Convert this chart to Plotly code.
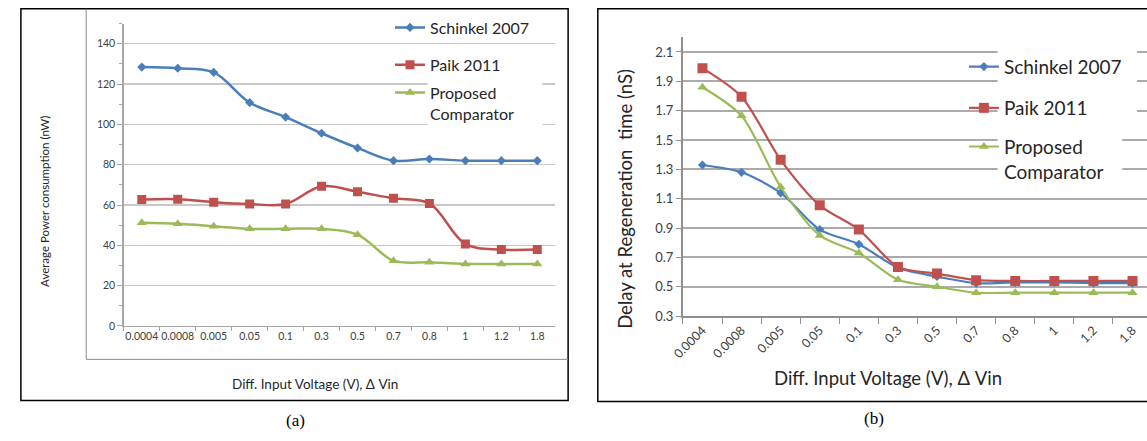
import plotly.graph_objects as go

W, H = 1147, 441

def fx(px):
    return px / W

def fy(py):
    return 1 - py / H

# ---------------- data ----------------
categories = ["0.0004", "0.0008", "0.005", "0.05", "0.1", "0.3", "0.5", "0.7", "0.8", "1", "1.2", "1.8"]

power_schinkel = [128.4, 127.8, 125.8, 110.8, 103.6, 95.6, 88.3, 82.0, 82.8, 82.0, 82.0, 82.0]
power_paik = [62.7, 62.9, 61.4, 60.5, 60.5, 69.3, 66.6, 63.3, 60.8, 40.7, 37.9, 37.9]
power_proposed = [51.2, 50.7, 49.5, 48.2, 48.2, 48.2, 45.3, 32.4, 31.6, 30.8, 30.8, 30.8]

delay_schinkel = [1.33, 1.28, 1.14, 0.89, 0.79, 0.63, 0.57, 0.525, 0.53, 0.53, 0.525, 0.525]
delay_paik = [1.99, 1.795, 1.365, 1.055, 0.89, 0.635, 0.59, 0.545, 0.54, 0.54, 0.54, 0.54]
delay_proposed = [1.86, 1.665, 1.18, 0.85, 0.73, 0.548, 0.50, 0.46, 0.46, 0.46, 0.46, 0.46]

series_names = ["Schinkel 2007", "Paik 2011", "Proposed<br>Comparator"]
colors = ["#4a7ebb", "#c0504d", "#9bbb59"]
symbols = ["diamond", "square", "triangle-up"]

FONT = "Lato"

fig = go.Figure()

# ---------------- panel (a) ----------------
a_sizes = [7, 9, 9]
for i, vals in enumerate([power_schinkel, power_paik, power_proposed]):
    fig.add_trace(go.Scatter(
        x=categories, y=vals, name=series_names[i], mode="lines+markers",
        line=dict(color=colors[i], width=2.5, shape="spline", smoothing=1),
        marker=dict(symbol=symbols[i], size=a_sizes[i], color=colors[i]),
        xaxis="x", yaxis="y", showlegend=True,
        legend=["legend", "legend2", "legend3"][i],
    ))

# ---------------- panel (b) ----------------
b_sizes = [7, 10, 9]
for i, vals in enumerate([delay_schinkel, delay_paik, delay_proposed]):
    fig.add_trace(go.Scatter(
        x=categories, y=vals, name=series_names[i], mode="lines+markers",
        line=dict(color=colors[i], width=2.2, shape="spline", smoothing=0.8),
        marker=dict(symbol=symbols[i], size=b_sizes[i], color=colors[i]),
        xaxis="x2", yaxis="y2", showlegend=True,
        legend=["legend4", "legend5", "legend6"][i],
    ))

axis_grey = "#a6a6a6"

fig.update_layout(
    width=W, height=H,
    margin=dict(l=0, r=0, t=0, b=0),
    paper_bgcolor="white", plot_bgcolor="white",
    showlegend=True,
    font=dict(family=FONT, color="#262626"),
    xaxis=dict(
        domain=[fx(113), fx(549)], type="category", range=[-0.5, 11.5],
        tickson="boundaries", ticks="outside", ticklen=4, tickcolor=axis_grey,
        showline=True, linecolor=axis_grey, linewidth=1.5, showgrid=False,
        tickangle=0,
        tickfont=dict(size=10.5, color="#404040"), anchor="y",
    ),
    yaxis=dict(
        domain=[fy(332), fy(24)], range=[0, 150], tick0=0, dtick=20,
        showgrid=True, gridcolor="#c8c8c8", gridwidth=1.5,
        showline=True, linecolor=axis_grey, linewidth=1.5,
        ticks="outside", ticklen=5, tickcolor=axis_grey,
        minor=dict(ticks="outside", ticklen=3, dtick=10, tickcolor=axis_grey, showgrid=False),
        tickfont=dict(size=10.5, color="#404040"), anchor="x", zeroline=False,
    ),
    xaxis2=dict(
        domain=[fx(678), 1], type="category", range=[-0.5, 11.37],
        tickson="boundaries", ticks="outside", ticklen=6, tickcolor="#909090",
        showline=True, linecolor="#909090", linewidth=2, showgrid=False,
        tickangle=-45, tickfont=dict(size=12.5, color="#404040"), anchor="y2",
    ),
    yaxis2=dict(
        domain=[fy(322), fy(38)], range=[0.3, 2.2], tick0=0.3, dtick=0.2,
        tickformat=".1f",
        showgrid=True, gridcolor="#ababab", gridwidth=2,
        showline=True, linecolor="#909090", linewidth=2,
        ticks="outside", ticklen=5, tickcolor="#909090",
        tickfont=dict(size=13, color="#404040"), anchor="x2", zeroline=False,
    ),
)

# ---------------- legends: one entry each ----------------
leg_common = dict(bgcolor="rgba(0,0,0,0)", borderwidth=0, xanchor="left", valign="top")
fa = dict(size=16, family=FONT, color="#262626")
fb = dict(size=19, family=FONT, color="#262626")
fig.update_layout(
    legend=dict(x=fx(382), y=fy(28), yanchor="middle", font=fa, **leg_common),
    legend2=dict(x=fx(382), y=fy(66), yanchor="middle", font=fa, **leg_common),
    legend3=dict(x=fx(382), y=fy(77), yanchor="top", font=fa, **leg_common),
    legend4=dict(x=fx(962), y=fy(68), yanchor="middle", font=fb, **leg_common),
    legend5=dict(x=fx(962), y=fy(110), yanchor="middle", font=fb, **leg_common),
    legend6=dict(x=fx(962), y=fy(130), yanchor="top", font=fb, **leg_common),
)

# ---------------- frames and legend backgrounds ----------------
shapes = [
    dict(type="rect", xref="paper", yref="paper", x0=fx(9), x1=fx(562), y0=fy(408), y1=fy(9),
         line=dict(color="black", width=1.5), fillcolor="rgba(0,0,0,0)"),
    dict(type="line", xref="paper", yref="paper", x0=fx(75), x1=fx(75), y0=fy(9), y1=fy(366),
         line=dict(color="#8c8c8c", width=1)),
    dict(type="line", xref="paper", yref="paper", x0=fx(75), x1=fx(562), y0=fy(366), y1=fy(366),
         line=dict(color="#8c8c8c", width=1)),
    dict(type="rect", xref="paper", yref="paper", x0=fx(592), x1=fx(1160), y0=fy(409), y1=fy(9),
         line=dict(color="black", width=1.5), fillcolor="rgba(0,0,0,0)"),
    dict(type="rect", xref="paper", yref="paper", x0=fx(420), x1=fx(536), y0=fy(131), y1=fy(50),
         line=dict(width=0), fillcolor="white", layer="above"),
    dict(type="rect", xref="paper", yref="paper", x0=fx(996), x1=fx(1137), y0=fy(125), y1=fy(45),
         line=dict(width=0), fillcolor="white", layer="above"),
    dict(type="rect", xref="paper", yref="paper", x0=fx(996), x1=fx(1122), y0=fy(185), y1=fy(124),
         line=dict(width=0), fillcolor="white", layer="above"),
]
fig.update_layout(shapes=shapes)

# ---------------- titles and captions ----------------
ann = [
    dict(text="Average Power consumption (nW)", x=fx(33), y=fy(205), textangle=-90,
         font=dict(size=11.5, family=FONT, color="#262626")),
    dict(text="Diff. Input Voltage (V), \u0394 Vin", x=fx(306), y=fy(391),
         font=dict(size=13.5, family=FONT, color="#262626")),
    dict(text="Delay at Regeneration\u00a0 time (nS)", x=fx(620), y=fy(203), textangle=-90,
         font=dict(size=18.5, family=FONT, color="#262626")),
    dict(text="Diff. Input Voltage (V), \u0394 Vin", x=fx(885), y=fy(385),
         font=dict(size=18.5, family=FONT, color="#262626")),
    dict(text="(a)", x=fx(287), y=fy(428), font=dict(size=17, family="Liberation Serif", color="black")),
    dict(text="(b)", x=fx(871), y=fy(426), font=dict(size=17, family="Liberation Serif", color="black")),
]
for a in ann:
    a.update(xref="paper", yref="paper", showarrow=False, xanchor="center", yanchor="middle")
fig.update_layout(annotations=ann)

fig.write_html(
    "out.html",
    config={"displayModeBar": False, "staticPlot": True},
    post_script="document.body.style.margin='0';document.body.style.overflow='hidden';",
)
